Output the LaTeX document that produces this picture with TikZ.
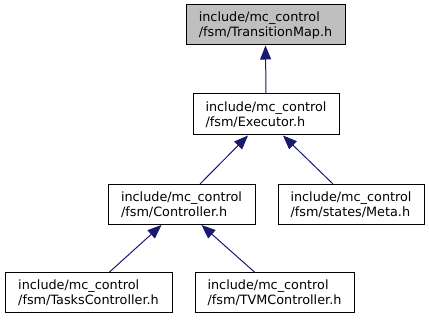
\documentclass[tikz,border=0pt]{standalone}
\usepackage{fontspec}
\setmainfont{DejaVu Sans}
\usetikzlibrary{arrows.meta}
\definecolor{edgeblue}{HTML}{191970}
\definecolor{curfill}{HTML}{BFBFBF}
\tikzset{
  filebox/.style={draw=black, line width=1pt, inner sep=0pt, align=left,
    minimum height=40pt, font=\fontsize{12.8}{15}\selectfont},
  current/.style={filebox, fill=curfill},
  dep/.style={draw=edgeblue, line width=1pt,
    {Triangle[length=14pt,width=11pt,fill=edgeblue]}-},
}
\begin{document}
\begin{tikzpicture}[x=1pt,y=-1pt]
\useasboundingbox (0,0) rectangle (429,320);
\node[current, minimum width=159pt] (tm) at (265.5,25) {include/mc\_control\\/fsm/TransitionMap.h};
\node[filebox, minimum width=146pt, minimum height=41pt] (ex) at (266,114.5) {include/mc\_control\\/fsm/Executor.h};
\node[filebox, minimum width=147pt] (ctl) at (181.5,204.5) {include/mc\_control\\/fsm/Controller.h};
\node[filebox, minimum width=146pt] (meta) at (351,204.5) {include/mc\_control\\/fsm/states/Meta.h};
\node[filebox, minimum width=167pt] (tasks) at (88.5,293) {include/mc\_control\\/fsm/TasksController.h};
\node[filebox, minimum width=159pt] (tvm) at (274.5,293) {include/mc\_control\\/fsm/TVMController.h};

\draw[dep] (tm.south) -- (ex.north);
\draw[dep] ([xshift=-18pt]ex.south) -- ([xshift=18.5pt]ctl.north);
\draw[dep] ([xshift=17pt]ex.south) -- ([xshift=-18pt]meta.north);
\draw[dep] ([xshift=-20pt]ctl.south) -- ([xshift=20.5pt]tasks.north);
\draw[dep] ([xshift=20pt]ctl.south) -- ([xshift=-19.5pt]tvm.north);
\end{tikzpicture}
\end{document}
